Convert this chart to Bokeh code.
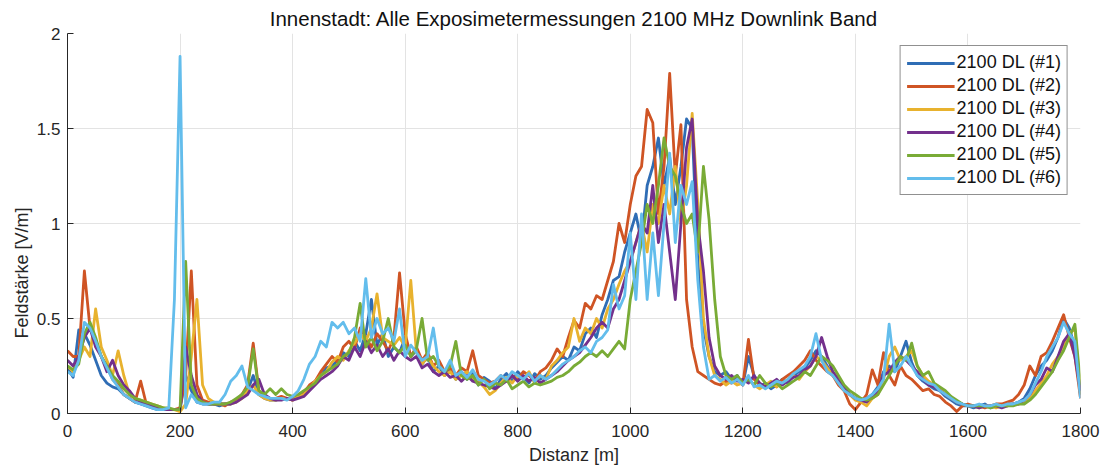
from bokeh.plotting import figure
from bokeh.models import Range1d, FixedTicker, Legend, LegendItem, Title
from bokeh.embed import file_html
from bokeh.resources import INLINE

# ---------------- data ----------------
distance = list(range(0, 1810, 10))  # m

series_names = ["2100 DL (#1)", "2100 DL (#2)", "2100 DL (#3)",
                "2100 DL (#4)", "2100 DL (#5)", "2100 DL (#6)"]
series_colors = ["#2f6db5", "#cf5424", "#e8b22e", "#73308c", "#79ab36", "#63bdec"]

s1 = [0.24, 0.19, 0.44, 0.42, 0.36, 0.28, 0.20, 0.16, 0.14, 0.13,
      0.10, 0.08, 0.06, 0.05, 0.04, 0.03, 0.02, 0.02, 0.02, 0.02,
      0.02, 0.20, 0.12, 0.06, 0.05, 0.05, 0.05, 0.04, 0.05, 0.05,
      0.07, 0.10, 0.12, 0.20, 0.10, 0.08, 0.07, 0.07, 0.08, 0.08,
      0.08, 0.09, 0.11, 0.14, 0.17, 0.20, 0.24, 0.25, 0.28, 0.32,
      0.30, 0.38, 0.33, 0.42, 0.60, 0.36, 0.42, 0.30, 0.35, 0.32,
      0.40, 0.30, 0.33, 0.26, 0.30, 0.22, 0.25, 0.20, 0.23, 0.18,
      0.22, 0.18, 0.21, 0.15, 0.19, 0.17, 0.13, 0.18, 0.21, 0.17,
      0.22, 0.19, 0.16, 0.21, 0.18, 0.20, 0.24, 0.27, 0.30, 0.28,
      0.35, 0.33, 0.42, 0.45, 0.40, 0.52, 0.60, 0.70, 0.72, 0.85,
      0.95, 1.05, 0.90, 1.20, 1.30, 1.45, 1.20, 1.35, 1.10, 1.30,
      1.55, 1.50, 0.80, 0.45, 0.30, 0.22, 0.20, 0.22, 0.18, 0.20,
      0.15, 0.30, 0.20, 0.14, 0.16, 0.13, 0.15, 0.18, 0.16, 0.20,
      0.22, 0.24, 0.28, 0.33, 0.30, 0.25, 0.20, 0.17, 0.13, 0.10,
      0.08, 0.06, 0.08, 0.10, 0.14, 0.22, 0.25, 0.22, 0.30, 0.38,
      0.27, 0.20, 0.17, 0.15, 0.13, 0.12, 0.09, 0.07, 0.05, 0.04,
      0.04, 0.03, 0.04, 0.05, 0.03, 0.04, 0.04, 0.05, 0.05, 0.06,
      0.08, 0.13, 0.20, 0.25, 0.28, 0.33, 0.40, 0.50, 0.45, 0.35,
      0.10]

s2 = [0.33, 0.30, 0.30, 0.75, 0.45, 0.38, 0.30, 0.25, 0.18, 0.15,
      0.10, 0.08, 0.06, 0.17, 0.05, 0.04, 0.03, 0.02, 0.02, 0.02,
      0.03, 0.20, 0.75, 0.15, 0.07, 0.06, 0.05, 0.05, 0.04, 0.06,
      0.07, 0.10, 0.15, 0.37, 0.12, 0.09, 0.08, 0.08, 0.09, 0.08,
      0.07, 0.09, 0.11, 0.15, 0.17, 0.22, 0.26, 0.30, 0.27, 0.35,
      0.38, 0.34, 0.45, 0.40, 0.35, 0.42, 0.38, 0.33, 0.40, 0.74,
      0.42, 0.30, 0.35, 0.28, 0.32, 0.25, 0.28, 0.22, 0.24, 0.20,
      0.24, 0.22, 0.33, 0.20, 0.18, 0.16, 0.17, 0.20, 0.17, 0.20,
      0.18, 0.22, 0.20, 0.17, 0.22, 0.24, 0.28, 0.34, 0.30, 0.40,
      0.49, 0.45, 0.58, 0.55, 0.62, 0.60, 0.70, 0.80, 1.00, 0.90,
      1.10, 1.25, 1.30, 1.60, 1.53, 1.05, 1.30, 1.79, 1.25, 1.52,
      0.60, 0.35, 0.22, 0.20, 0.18, 0.16, 0.15, 0.17, 0.16, 0.18,
      0.15, 0.39, 0.18, 0.15, 0.14, 0.16, 0.14, 0.18, 0.20, 0.22,
      0.25, 0.28, 0.33, 0.28, 0.25, 0.22, 0.20, 0.15, 0.12, 0.05,
      0.02, 0.06, 0.10, 0.23, 0.15, 0.32, 0.20, 0.15, 0.25, 0.20,
      0.18, 0.15, 0.12, 0.13, 0.10, 0.09, 0.06, 0.04, 0.01, 0.04,
      0.05, 0.04, 0.04, 0.03, 0.04, 0.05, 0.05, 0.06, 0.07, 0.10,
      0.15, 0.25, 0.20, 0.30, 0.32, 0.38, 0.45, 0.52, 0.40, 0.30,
      0.08]

s3 = [0.25, 0.22, 0.28, 0.35, 0.30, 0.55, 0.35, 0.28, 0.20, 0.33,
      0.20, 0.10, 0.08, 0.07, 0.06, 0.05, 0.04, 0.03, 0.02, 0.02,
      0.01, 0.05, 0.30, 0.60, 0.15, 0.08, 0.06, 0.05, 0.05, 0.05,
      0.06, 0.08, 0.12, 0.15, 0.10, 0.08, 0.07, 0.07, 0.08, 0.08,
      0.07, 0.09, 0.10, 0.13, 0.17, 0.20, 0.22, 0.27, 0.30, 0.28,
      0.33, 0.37, 0.42, 0.38, 0.45, 0.63, 0.40, 0.38, 0.36, 0.40,
      0.35, 0.70, 0.32, 0.26, 0.30, 0.25, 0.22, 0.20, 0.22, 0.18,
      0.20, 0.22, 0.18, 0.17, 0.14, 0.10, 0.12, 0.16, 0.19, 0.16,
      0.20, 0.18, 0.22, 0.16, 0.20, 0.18, 0.25, 0.28, 0.32, 0.35,
      0.50, 0.38, 0.45, 0.42, 0.50, 0.45, 0.55, 0.60, 0.68, 0.75,
      0.80, 0.90, 1.00, 0.85, 1.10, 1.00, 1.20, 1.05, 1.30, 1.00,
      1.20, 1.58, 1.10, 0.50, 0.30, 0.20, 0.18, 0.15, 0.17, 0.15,
      0.16, 0.18, 0.15, 0.13, 0.15, 0.17, 0.14, 0.16, 0.18, 0.20,
      0.18, 0.22, 0.25, 0.30, 0.28, 0.24, 0.20, 0.17, 0.13, 0.10,
      0.07, 0.06, 0.04, 0.08, 0.10, 0.18, 0.30, 0.35, 0.28, 0.30,
      0.33, 0.25, 0.20, 0.17, 0.15, 0.13, 0.10, 0.08, 0.06, 0.05,
      0.04, 0.04, 0.03, 0.04, 0.04, 0.03, 0.04, 0.04, 0.05, 0.05,
      0.06, 0.08, 0.12, 0.16, 0.20, 0.26, 0.30, 0.35, 0.42, 0.45,
      0.10]

s4 = [0.28, 0.25, 0.30, 0.40, 0.45, 0.35, 0.30, 0.22, 0.28, 0.20,
      0.15, 0.12, 0.08, 0.06, 0.05, 0.04, 0.03, 0.02, 0.02, 0.02,
      0.02, 0.35, 0.20, 0.10, 0.06, 0.05, 0.05, 0.05, 0.05, 0.05,
      0.06, 0.08, 0.10, 0.15, 0.18, 0.10, 0.08, 0.07, 0.07, 0.08,
      0.07, 0.08, 0.09, 0.12, 0.15, 0.18, 0.20, 0.22, 0.25, 0.30,
      0.28, 0.35, 0.30, 0.38, 0.32, 0.36, 0.30, 0.34, 0.28, 0.33,
      0.30, 0.28, 0.30, 0.24, 0.26, 0.22, 0.20, 0.22, 0.19, 0.20,
      0.17, 0.20, 0.17, 0.16, 0.15, 0.14, 0.13, 0.15, 0.17, 0.20,
      0.17, 0.20, 0.17, 0.19, 0.16, 0.18, 0.20, 0.22, 0.25, 0.28,
      0.30, 0.32, 0.36, 0.40, 0.45, 0.48, 0.45, 0.55, 0.60, 0.70,
      0.80, 0.90, 1.00, 0.95, 1.20, 0.90, 1.10, 0.85, 0.60, 1.00,
      1.40, 1.55, 1.00, 0.75, 0.40, 0.25, 0.20, 0.18, 0.20, 0.17,
      0.18, 0.16, 0.20, 0.16, 0.14, 0.16, 0.18, 0.15, 0.17, 0.19,
      0.20, 0.23, 0.25, 0.30, 0.40, 0.30, 0.22, 0.18, 0.14, 0.10,
      0.08, 0.07, 0.06, 0.09, 0.12, 0.20, 0.22, 0.27, 0.30, 0.28,
      0.25, 0.22, 0.18, 0.15, 0.14, 0.12, 0.10, 0.08, 0.06, 0.05,
      0.04, 0.04, 0.03, 0.04, 0.04, 0.04, 0.03, 0.04, 0.05, 0.05,
      0.07, 0.10, 0.15, 0.18, 0.24, 0.22, 0.30, 0.38, 0.42, 0.30,
      0.12]

s5 = [0.25, 0.23, 0.26, 0.42, 0.48, 0.40, 0.30, 0.25, 0.20, 0.17,
      0.13, 0.10, 0.08, 0.07, 0.06, 0.05, 0.04, 0.03, 0.03, 0.02,
      0.02, 0.80, 0.15, 0.08, 0.06, 0.05, 0.05, 0.05, 0.05, 0.06,
      0.08, 0.10, 0.14, 0.34, 0.12, 0.10, 0.13, 0.10, 0.13, 0.10,
      0.09, 0.10, 0.12, 0.14, 0.16, 0.20, 0.22, 0.24, 0.26, 0.30,
      0.32, 0.40, 0.58, 0.35, 0.40, 0.33, 0.38, 0.50, 0.35, 0.32,
      0.36, 0.30, 0.34, 0.50, 0.28, 0.30, 0.25, 0.22, 0.25, 0.38,
      0.20, 0.18, 0.20, 0.15, 0.18, 0.13, 0.16, 0.15, 0.18, 0.13,
      0.15, 0.17, 0.14, 0.16, 0.15, 0.16, 0.17, 0.19, 0.20, 0.22,
      0.25, 0.27, 0.30, 0.32, 0.30, 0.33, 0.30, 0.34, 0.38, 0.34,
      0.60, 0.75, 0.90, 1.10, 1.00, 1.20, 1.45, 1.30, 1.25, 1.10,
      1.00, 1.05, 0.85, 1.30, 1.02, 0.60, 0.30, 0.20, 0.18, 0.20,
      0.16, 0.18, 0.15, 0.20, 0.16, 0.14, 0.16, 0.13, 0.15, 0.17,
      0.19, 0.22, 0.20, 0.25, 0.30, 0.28, 0.25, 0.20, 0.15, 0.12,
      0.10, 0.08, 0.07, 0.08, 0.10, 0.15, 0.20, 0.25, 0.30, 0.28,
      0.37, 0.25, 0.20, 0.22, 0.16, 0.14, 0.12, 0.09, 0.07, 0.05,
      0.04, 0.04, 0.04, 0.04, 0.03, 0.04, 0.04, 0.04, 0.04, 0.05,
      0.05, 0.07, 0.10, 0.14, 0.18, 0.22, 0.28, 0.33, 0.40, 0.47,
      0.15]

s6 = [0.22, 0.20, 0.28, 0.48, 0.45, 0.38, 0.30, 0.24, 0.18, 0.14,
      0.10, 0.08, 0.06, 0.05, 0.04, 0.03, 0.02, 0.02, 0.03, 0.60,
      1.88, 0.03, 0.10, 0.06, 0.05, 0.05, 0.06, 0.06, 0.10, 0.17,
      0.20, 0.25, 0.14, 0.12, 0.10, 0.09, 0.08, 0.08, 0.08, 0.07,
      0.09, 0.12, 0.18, 0.26, 0.30, 0.38, 0.35, 0.48, 0.45, 0.48,
      0.42, 0.45, 0.38, 0.71, 0.40, 0.50, 0.42, 0.45, 0.38, 0.55,
      0.30, 0.36, 0.32, 0.28, 0.30, 0.45, 0.25, 0.22, 0.28, 0.20,
      0.22, 0.19, 0.23, 0.18, 0.17, 0.15, 0.17, 0.20, 0.18, 0.22,
      0.20, 0.18, 0.21, 0.17, 0.20, 0.18, 0.20, 0.23, 0.26, 0.28,
      0.30, 0.33, 0.35, 0.32, 0.38, 0.40, 0.44, 0.68, 0.55, 0.62,
      0.95, 0.60, 1.05, 0.60, 0.95, 0.62, 1.00, 1.37, 0.90, 1.20,
      1.10, 1.22, 0.70, 0.35, 0.18, 0.20, 0.17, 0.19, 0.16, 0.18,
      0.15, 0.20, 0.14, 0.15, 0.13, 0.15, 0.17, 0.16, 0.18, 0.21,
      0.23, 0.25, 0.30, 0.42, 0.28, 0.22, 0.20, 0.16, 0.12, 0.10,
      0.08, 0.07, 0.08, 0.10, 0.13, 0.18, 0.47, 0.22, 0.25, 0.30,
      0.25, 0.20, 0.18, 0.16, 0.15, 0.12, 0.10, 0.08, 0.06, 0.05,
      0.04, 0.04, 0.05, 0.04, 0.04, 0.05, 0.04, 0.05, 0.05, 0.06,
      0.07, 0.10, 0.16, 0.22, 0.30, 0.35, 0.40, 0.48, 0.42, 0.38,
      0.08]

x_ticks = [0, 200, 400, 600, 800, 1000, 1200, 1400, 1600, 1800]
y_ticks = [0, 0.5, 1, 1.5, 2]
y_tick_labels = ["0", "0.5", "1", "1.5", "2"]

title_text = "Innenstadt: Alle Exposimetermessungen 2100 MHz Downlink Band"
x_label = "Distanz [m]"
y_label = "Feldstärke [V/m]"

# ---------------- figure ----------------
FONT = "Liberation Sans"
AX = "#262626"

p = figure(width=1104, height=469, output_backend="svg", toolbar_location=None,
           x_range=Range1d(0, 1800), y_range=Range1d(0, 2),
           min_border_left=67, min_border_right=24, min_border_top=33,
           min_border_bottom=56)
p.outline_line_color = None
p.background_fill_color = "white"
p.border_fill_color = "white"

p.title.text = title_text
p.title.align = "center"
p.title.text_font = FONT
p.title.text_font_size = "20.5px"
p.title.text_font_style = "normal"
p.title.text_color = "#111111"
p.title.standoff = 8

for ax in (p.xaxis[0], p.yaxis[0]):
    ax.axis_line_color = AX
    ax.axis_line_width = 1
    ax.major_tick_line_color = AX
    ax.major_tick_in = 6
    ax.major_tick_out = 0
    ax.minor_tick_line_color = None
    ax.major_label_text_font = FONT
    ax.major_label_text_font_size = "17px"
    ax.major_label_text_color = AX
    ax.axis_label_text_font = FONT
    ax.axis_label_text_font_size = "18px"
    ax.axis_label_text_font_style = "normal"
    ax.axis_label_text_color = AX

p.xaxis.ticker = FixedTicker(ticks=x_ticks)
p.yaxis.ticker = FixedTicker(ticks=y_ticks)
p.yaxis.major_label_overrides = {float(t): l for t, l in zip(y_ticks, y_tick_labels)}
p.xaxis.axis_label = x_label
p.xaxis.major_label_standoff = 11
p.yaxis.major_label_standoff = 7
p.xaxis.axis_label_standoff = 5

# y label as a side title, shifted slightly below the axis centre as in the reference
ytitle = Title(text=y_label, align="left", offset=75, standoff=4,
               text_font=FONT, text_font_size="18px", text_font_style="normal",
               text_color=AX)
p.add_layout(ytitle, "left")

p.xgrid.grid_line_color = "#e3e3e3"
p.ygrid.grid_line_color = "#e3e3e3"
p.xgrid.grid_line_width = 1
p.ygrid.grid_line_width = 1

items = []
for name, col, ys in zip(series_names, series_colors, [s1, s2, s3, s4, s5, s6]):
    r = p.line(distance, ys, line_color=col, line_width=2.8, line_join="round")
    items.append(LegendItem(label=name, renderers=[r]))

legend = Legend(items=items, location="top_right")
legend.label_text_font = FONT
legend.label_text_font_size = "18px"
legend.label_text_color = "#111111"
legend.glyph_width = 48
legend.glyph_height = 20
legend.label_height = 20
legend.spacing = 2
legend.padding = 6
legend.margin = 12
legend.label_standoff = 2
legend.border_line_color = "#222222"
legend.border_line_width = 1
legend.background_fill_color = "white"
legend.background_fill_alpha = 1
p.add_layout(legend)

open("out.html", "w").write(file_html(p, INLINE))
